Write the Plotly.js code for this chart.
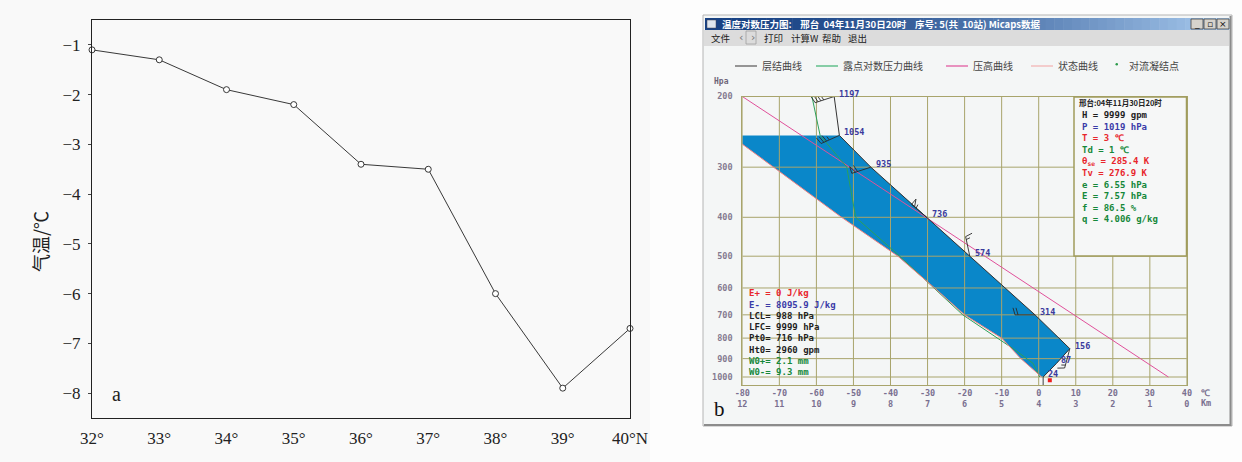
<!DOCTYPE html>
<html><head><meta charset="utf-8">
<script src="https://cdn.plot.ly/plotly-3.0.1.min.js"></script>
<style>html,body{margin:0;padding:0;background:#f9f9f9;}#chart{width:1242px;height:462px;}</style>
</head><body><div id="chart"></div>
<script>
// ---------- Panel a data ----------
const latitudes = [32, 33, 34, 35, 36, 37, 38, 39, 40];
const latLabels = ['32°', '33°', '34°', '35°', '36°', '37°', '38°', '39°', '40°N'];
const airTemp = [-1.1, -1.3, -1.9, -2.2, -3.4, -3.5, -6.0, -7.9, -6.7];
const airTempTicks = [-1, -2, -3, -4, -5, -6, -7, -8];

// ---------- Panel b data (sounding) ----------
const levels = [1000, 925, 850, 700, 500, 400, 300, 250, 200];
const heights = [24, 87, 156, 314, 574, 736, 935, 1054, 1197];
const envTemp = [1.2, 4.8, 8.4, -1.0, -18.6, -30.2, -45.3, -53.8, -55.2];
const dewTemp = [0.3, -1.5, -6.9, -20.5, -37.5, -49.4, -51.8, -59.0, -61.2];
const windDir = [180, 0, 195, 270, 348, 310, 252, 246, 252];
const windSpd = [4, 0, 6, 8, 6, 22, 24, 14, 16];
const parcelP = [1000, 900, 800, 700, 600, 500, 400, 300, 250];
const parcelT = [0.8, -4.8, -10.0, -20.0, -28.1, -38.0, -53.2, -71.6, -83.2];
const heightLineP = [200, 1000];
const heightLineT = [-80, 35];
const surfaceP = [1019];
const surfaceT = [3];
const tempTicks = [-80, -70, -60, -50, -40, -30, -20, -10, 0, 10, 20, 30, 40];
const kmTicks = [12, 11, 10, 9, 8, 7, 6, 5, 4, 3, 2, 1, 0];
const pTicks = [200, 300, 400, 500, 600, 700, 800, 900, 1000];
const pBottom = 1047;

const infoTitle = '邢台:04年11月30日20时';
const infoText = ['H = 9999 gpm', 'P = 1019 hPa', 'T = 3 ℃', 'Td = 1 ℃', 'θ<sub>se</sub> = 285.4 K', 'Tv = 276.9 K', 'e = 6.55 hPa', 'E = 7.57 hPa', 'f = 86.5 %', 'q = 4.006 g/kg'];
const infoColor = ['#1e1e1e', '#3b3ba8', '#e8262c', '#15883a', '#e8262c', '#e8262c', '#15883a', '#15883a', '#15883a', '#15883a'];
const energyText = ['E+ = 0 J/kg', 'E- = 8095.9 J/kg', 'LCL= 988 hPa', 'LFC= 9999 hPa', 'Pt0= 716 hPa', 'Ht0= 2960 gpm', 'W0+= 2.1 mm', 'W0-= 9.3 mm'];
const energyColor = ['#e8262c', '#3b3ba8', '#1e1e1e', '#1e1e1e', '#1e1e1e', '#1e1e1e', '#15883a', '#15883a'];
const legendNames = ['层结曲线', '露点对数压力曲线', '压高曲线', '状态曲线', '对流凝结点'];
const legendColors = ['#555555', '#3cb371', '#e0509a', '#f2b0b0', '#2a9a4a'];
const menuItems = ['文件', '‹', '›', '打印', '计算W', '帮助', '退出'];
const nb = '\u00a0';
const windowTitle = '温度对数压力图:' + nb.repeat(4) + '邢台' + nb.repeat(2) + '04年11月30日20时' + nb.repeat(4) + '序号:' + nb + '5(共' + nb.repeat(2) + '10站)' + nb + 'Micaps数据';

// ---------- geometry helpers (layout placement) ----------
const W = 1242, H = 462;
const px = x => x / W, py = y => 1 - y / H;
const olive = '#a8a46c';
const mono = 'DejaVu Sans Mono';
const cjk = 'Noto Sans CJK SC';
const bLeft = 742.3, bRight = 1186.9, bTop = 96.5, bBottom = 385;
const tRange = [-80, 40];
const degPerPx = (tRange[1] - tRange[0]) / (bRight - bLeft);
const logPerPx = (Math.log10(pBottom) - Math.log10(200)) / (bBottom - bTop);

const traces = [];
// Panel a
traces.push({
  x: latitudes, y: airTemp, xaxis: 'x', yaxis: 'y', type: 'scatter', mode: 'lines+markers',
  line: {color: '#222', width: 0.9},
  marker: {symbol: 'circle', size: 6, color: '#ffffff', line: {color: '#222', width: 0.9}},
  cliponaxis: false, hoverinfo: 'skip'
});

// Panel b: negative-energy polygon (parcel up, environment down)
const polyT = parcelT.slice();
const polyP = parcelP.slice();
for (let i = levels.length - 1; i >= 0; i--) {
  if (levels[i] >= 250) { polyT.push(envTemp[i]); polyP.push(levels[i]); }
}
traces.push({x: polyT, y: polyP, xaxis: 'x2', yaxis: 'y2', type: 'scatter', mode: 'lines',
  fill: 'toself', fillcolor: '#0a87c9', line: {width: 0}, hoverinfo: 'skip'});

// grid (drawn over the fill like the original)
const gx = [], gy = [];
tempTicks.forEach(t => { gx.push(t, t, null); gy.push(200, pBottom, null); });
pTicks.forEach(p => { gx.push(-80, 40, null); gy.push(p, p, null); });
traces.push({x: gx, y: gy, xaxis: 'x2', yaxis: 'y2', type: 'scatter', mode: 'lines',
  line: {color: olive, width: 1}, hoverinfo: 'skip', connectgaps: false});

traces.push({x: heightLineT, y: heightLineP, xaxis: 'x2', yaxis: 'y2', type: 'scatter', mode: 'lines',
  line: {color: '#e0509a', width: 1}, hoverinfo: 'skip'});
traces.push({x: dewTemp, y: levels, xaxis: 'x2', yaxis: 'y2', type: 'scatter', mode: 'lines',
  line: {color: '#2ca05a', width: 1}, hoverinfo: 'skip'});
traces.push({x: parcelT, y: parcelP, xaxis: 'x2', yaxis: 'y2', type: 'scatter', mode: 'lines',
  line: {color: '#f08080', width: 1}, hoverinfo: 'skip'});
traces.push({x: envTemp, y: levels, xaxis: 'x2', yaxis: 'y2', type: 'scatter', mode: 'lines',
  line: {color: '#333333', width: 1}, hoverinfo: 'skip'});

// wind barbs (m/s: flag 20, full feather 4, half 2) built in pixel offsets, mapped through the axis scale
const bx = [], by = [];
levels.forEach((p, i) => {
  const spd = windSpd[i];
  if (spd <= 0) return;
  const rad = windDir[i] * Math.PI / 180;
  const ux = Math.sin(rad), uy = Math.cos(rad);   // y is "up"
  const qx = uy, qy = -ux;                           // clockwise side
  const T0 = envTemp[i], L0 = Math.log10(p);
  const toData = (dx, dy) => [T0 + dx * degPerPx, Math.pow(10, L0 - dy * logPerPx)];
  const seg = pts => { pts.forEach(pt => { const d = toData(pt[0], pt[1]); bx.push(d[0]); by.push(d[1]); }); bx.push(null); by.push(null); };
  const Ls = 20;
  seg([[0, 0], [ux * Ls, uy * Ls]]);
  let rem = spd, pos = Ls;
  while (rem >= 20) {
    seg([[ux * pos, uy * pos], [ux * pos + qx * 7, uy * pos + qy * 7], [ux * (pos - 4), uy * (pos - 4)]]);
    rem -= 20; pos -= 6;
  }
  while (rem >= 4) {
    seg([[ux * pos, uy * pos], [ux * pos + qx * 7 + ux * 2, uy * pos + qy * 7 + uy * 2]]);
    rem -= 4; pos -= 3;
  }
  if (rem >= 2) seg([[ux * pos, uy * pos], [ux * pos + qx * 4 + ux, uy * pos + qy * 4 + uy]]);
});
traces.push({x: bx, y: by, xaxis: 'x2', yaxis: 'y2', type: 'scatter', mode: 'lines',
  line: {color: '#2a2a2a', width: 0.9}, hoverinfo: 'skip', connectgaps: false});

traces.push({x: surfaceT, y: surfaceP, xaxis: 'x2', yaxis: 'y2', type: 'scatter', mode: 'markers',
  marker: {color: '#ee1c1c', size: 4, symbol: 'square'}, hoverinfo: 'skip'});

// ---------- shapes ----------
const shapes = [];
shapes.push({type: 'rect', xref: 'paper', yref: 'paper', x0: px(650), x1: px(1242), y0: 0, y1: 1,
  fillcolor: '#fdfdfd', line: {width: 0}, layer: 'below'});
// window
shapes.push({type: 'rect', xref: 'paper', yref: 'paper', x0: px(703), x1: px(1232), y0: py(426), y1: py(15),
  fillcolor: '#f4f6f6', line: {color: '#b4b4b4', width: 1}, layer: 'below'});
shapes.push({type: 'line', xref: 'paper', yref: 'paper', x0: px(1230.5), x1: px(1230.5), y0: py(426), y1: py(16),
  line: {color: '#8c8c8c', width: 2}, layer: 'below'});
shapes.push({type: 'line', xref: 'paper', yref: 'paper', x0: px(704), x1: px(1231), y0: py(425), y1: py(425),
  line: {color: '#8c8c8c', width: 2}, layer: 'below'});
// title bar gradient
const nStrip = 60, tx0 = 705, tx1 = 1229;
for (let i = 0; i < nStrip; i++) {
  const f = Math.pow(i / (nStrip - 1), 1.6);
  const r = Math.round(24 + (168 - 24) * f), g = Math.round(66 + (202 - 66) * f), b = Math.round(132 + (238 - 132) * f);
  const a = tx0 + (tx1 - tx0) * i / nStrip, bb = tx0 + (tx1 - tx0) * (i + 1) / nStrip + 0.5;
  shapes.push({type: 'rect', xref: 'paper', yref: 'paper', x0: px(a), x1: px(bb), y0: py(30), y1: py(18),
    fillcolor: `rgb(${r},${g},${b})`, line: {width: 0}, layer: 'below'});
}
// icon
shapes.push({type: 'rect', xref: 'paper', yref: 'paper', x0: px(707), x1: px(716), y0: py(28), y1: py(20),
  fillcolor: '#dfe6ee', line: {color: '#445', width: 0.5}, layer: 'below'});
// buttons
[1191, 1204, 1217].forEach(bxp => shapes.push({type: 'rect', xref: 'paper', yref: 'paper', x0: px(bxp), x1: px(bxp + 12), y0: py(29), y1: py(19),
  fillcolor: '#d6d3cc', line: {color: '#444', width: 0.8}, layer: 'below'}));
// menu bar
shapes.push({type: 'rect', xref: 'paper', yref: 'paper', x0: px(704), x1: px(1229), y0: py(46), y1: py(30),
  fillcolor: '#dcdcdc', line: {width: 0}, layer: 'below'});
shapes.push({type: 'rect', xref: 'paper', yref: 'paper', x0: px(746), x1: px(756), y0: py(44), y1: py(31),
  fillcolor: 'rgba(0,0,0,0)', line: {color: '#a0a0a0', width: 0.8}, layer: 'below'});
// legend lines
const legX = [735, 816, 946, 1031];
legX.forEach((lx, i) => shapes.push({type: 'line', xref: 'paper', yref: 'paper', x0: px(lx), x1: px(lx + 22), y0: py(66), y1: py(66),
  line: {color: legendColors[i], width: 1.2}, layer: 'below'}));
shapes.push({type: 'circle', xref: 'paper', yref: 'paper', x0: px(1115.5), x1: px(1118), y0: py(65.5), y1: py(63),
  fillcolor: legendColors[4], line: {width: 0}, layer: 'below'});
// info box
shapes.push({type: 'rect', xref: 'paper', yref: 'paper', x0: px(1074), x1: px(1186.5), y0: py(256), y1: py(97),
  fillcolor: '#f6f7f7', line: {color: '#a09c5c', width: 1.5}, layer: 'above'});

// ---------- annotations ----------
const ann = [];
const A = (x, y, text, opt) => ann.push(Object.assign({xref: 'paper', yref: 'paper', x: px(x), y: py(y), text: text,
  showarrow: false, xanchor: 'left', yanchor: 'middle'}, opt || {}));

// panel a
A(40, 242, '气温/℃', {xanchor: 'center', textangle: -90, font: {family: cjk, size: 18, color: '#222'}});
A(110, 394, 'a', {font: {family: 'Liberation Serif', size: 20, color: '#222'}});

// window chrome
A(720, 24.5, windowTitle, {font: {family: cjk, size: 9.5, color: '#ffffff', weight: 'bold'}});
const menuX = [709, 737, 748.5, 762, 789, 820, 846];
menuItems.forEach((m, i) => A(menuX[i], 38, m, {font: {family: (i === 1 || i === 2) ? 'DejaVu Sans' : cjk, size: (i === 1 || i === 2) ? 11 : 9.5, color: (i === 1 || i === 2) ? '#777' : '#222'}}));
['_', '▫', '×'].forEach((s, i) => A(1191 + 13 * i + 6, 24, s, {xanchor: 'center', font: {family: 'DejaVu Sans', size: 9, color: '#111'}}));

// legend
const legTX = [760, 841, 971, 1056, 1127];
legendNames.forEach((n, i) => A(legTX[i], 65, n, {font: {family: cjk, size: 10, color: '#444'}}));

// axis extras panel b
A(712, 81, 'Hpa', {font: {family: mono, size: 8, color: '#6e6478', weight: 'bold'}});
A(1199, 393, '℃', {font: {family: mono, size: 9, color: '#7a7090', weight: 'bold'}});
A(1199, 403, 'Km', {font: {family: mono, size: 8.5, color: '#7a7090', weight: 'bold'}});
A(712, 409, 'b', {font: {family: 'Liberation Serif', size: 21, color: '#111'}});

// height labels at sounding levels
levels.forEach((p, i) => ann.push({xref: 'x2', yref: 'y2', x: envTemp[i], y: Math.log10(p), text: String(heights[i]),
  showarrow: false, xanchor: 'left', yanchor: 'middle', xshift: 3, yshift: 3,
  font: {family: mono, size: 8.5, color: '#3a3a9c', weight: 'bold'}}));

// info box text
A(1077, 102.5, infoTitle, {font: {family: cjk, size: 7.5, color: '#222', weight: 'bold'}});
infoText.forEach((t, i) => A(1080, 115 + i * 11.6, t, {font: {family: mono, size: 9, color: infoColor[i], weight: 'bold'}}));
energyText.forEach((t, i) => A(747, 293.3 + i * 11.25, t, {font: {family: mono, size: 9, color: energyColor[i], weight: 'bold'}}));

// ---------- layout ----------
const layout = {
  width: W, height: H, margin: {l: 0, r: 0, t: 0, b: 0},
  paper_bgcolor: '#f9f9f9', plot_bgcolor: 'rgba(0,0,0,0)', showlegend: false,
  xaxis: {domain: [px(92), px(630)], range: [32, 40], tickvals: latitudes, ticktext: latLabels,
    showline: true, mirror: true, linecolor: '#222', linewidth: 1, showgrid: false, zeroline: false,
    ticks: '', ticklabelstandoff: 5, tickfont: {family: 'Liberation Serif', size: 17, color: '#222'}, anchor: 'y'},
  yaxis: {domain: [py(418), py(20)], range: [-8.5, -0.5], tickvals: airTempTicks,
    showline: true, mirror: true, linecolor: '#222', linewidth: 1, showgrid: false, zeroline: false,
    ticks: 'outside', ticklen: 3, tickcolor: '#444', ticklabelstandoff: 4,
    tickfont: {family: 'Liberation Serif', size: 17, color: '#222'}, anchor: 'x'},
  xaxis2: {domain: [px(bLeft), px(bRight)], range: tRange, tickvals: tempTicks,
    ticktext: tempTicks.map((t, i) => t + '<br>' + kmTicks[i]),
    showline: true, mirror: true, linecolor: olive, linewidth: 1, showgrid: false, zeroline: false, ticks: '',
    ticklabelstandoff: 0, tickfont: {family: mono, size: 8.5, color: '#7a7090', weight: 'bold'}, anchor: 'y2'},
  yaxis2: {domain: [py(bBottom), py(bTop)], type: 'log', range: [Math.log10(pBottom), Math.log10(200)], tickvals: pTicks,
    ticktext: pTicks.map(String),
    showline: true, mirror: true, linecolor: olive, linewidth: 1, showgrid: false, zeroline: false, ticks: '',
    ticklabelstandoff: 7, tickfont: {family: mono, size: 8.5, color: '#857a90', weight: 'bold'}, anchor: 'x2'},
  shapes: shapes, annotations: ann
};
Plotly.newPlot('chart', traces, layout, {staticPlot: true, displayModeBar: false});
</script></body></html>
